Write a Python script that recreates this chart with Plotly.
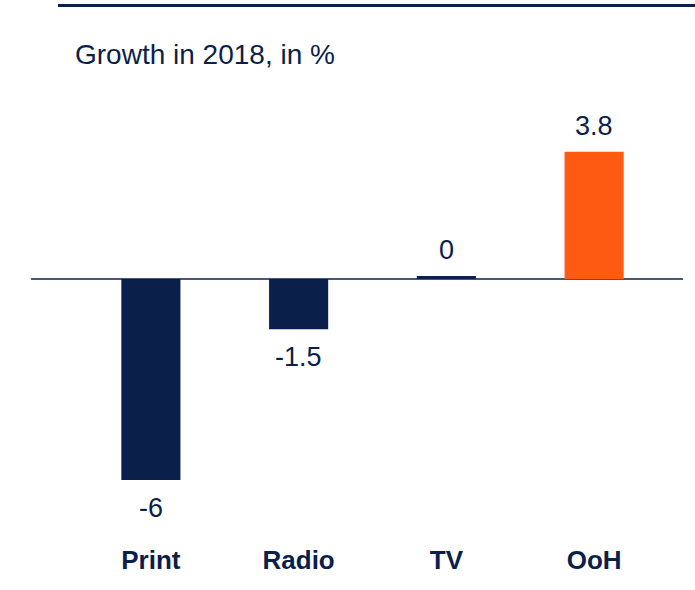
import plotly.graph_objects as go

# data
categories = ["Print", "Radio", "TV", "OoH"]
growth = [-6, -1.5, 0, 3.8]
bar_colors = ["#0b1f4b", "#0b1f4b", "#0b1f4b", "#ff5a12"]

NAVY = "#0b1f4b"
FONT = "Liberation Sans, Arial, sans-serif"

W, H = 695, 590
M_L, M_R, M_T, M_B = 77, 27, 112, 48
PX_PER_UNIT = 33.5
ZERO_PX = 279
MIN_BAR = 0.09  # zero values still get a thin sliver, like the original


def paper_x(px):
    return (px - M_L) / (W - M_L - M_R)


def paper_y(py):
    return (H - M_B - py) / (H - M_T - M_B)


y_range = [-(H - M_B - ZERO_PX) / PX_PER_UNIT, (ZERO_PX - M_T) / PX_PER_UNIT]

# bar heights as drawn (label keeps the real value)
drawn = [v if v != 0 else MIN_BAR for v in growth]

fig = go.Figure()
fig.add_trace(go.Bar(
    x=categories, y=drawn,
    marker=dict(color=bar_colors, line=dict(width=0)),
    hoverinfo="skip",
))

# value labels
for cat, v, d in zip(categories, growth, drawn):
    fig.add_annotation(
        x=cat, y=d, xref="x", yref="y",
        text=f"{v:g}", showarrow=False,
        yanchor="middle", yshift=-28 if v < 0 else 26,
        font=dict(family=FONT, size=27, color=NAVY),
    )

# title
fig.add_annotation(
    x=paper_x(73), y=paper_y(55), xref="paper", yref="paper",
    text="Growth in 2018, in %", showarrow=False,
    xanchor="left", yanchor="middle",
    font=dict(family=FONT, size=28, color=NAVY),
)

# top rule and zero line
fig.add_shape(type="line", xref="paper", yref="paper",
              x0=paper_x(58), x1=paper_x(700), y0=paper_y(5.5), y1=paper_y(5.5),
              line=dict(color=NAVY, width=3))
fig.add_shape(type="line", xref="paper", yref="y", layer="below",
              x0=paper_x(31), x1=paper_x(683), y0=0, y1=0,
              line=dict(color=NAVY, width=1.5))

fig.update_layout(
    width=W, height=H,
    margin=dict(l=M_L, r=M_R, t=M_T, b=M_B),
    paper_bgcolor="white", plot_bgcolor="white",
    showlegend=False,
    bargap=0.6,
    xaxis=dict(showgrid=False, zeroline=False, showline=False, ticks="",
               tickfont=dict(family=FONT, size=26, color=NAVY, weight="bold")),
    yaxis=dict(visible=False, range=y_range, zeroline=False, showgrid=False),
)

# drop the default page margin so the figure sits at the window corner
fig.write_html("out.html", config={"displayModeBar": False},
               post_script="document.body.style.margin='0';")
